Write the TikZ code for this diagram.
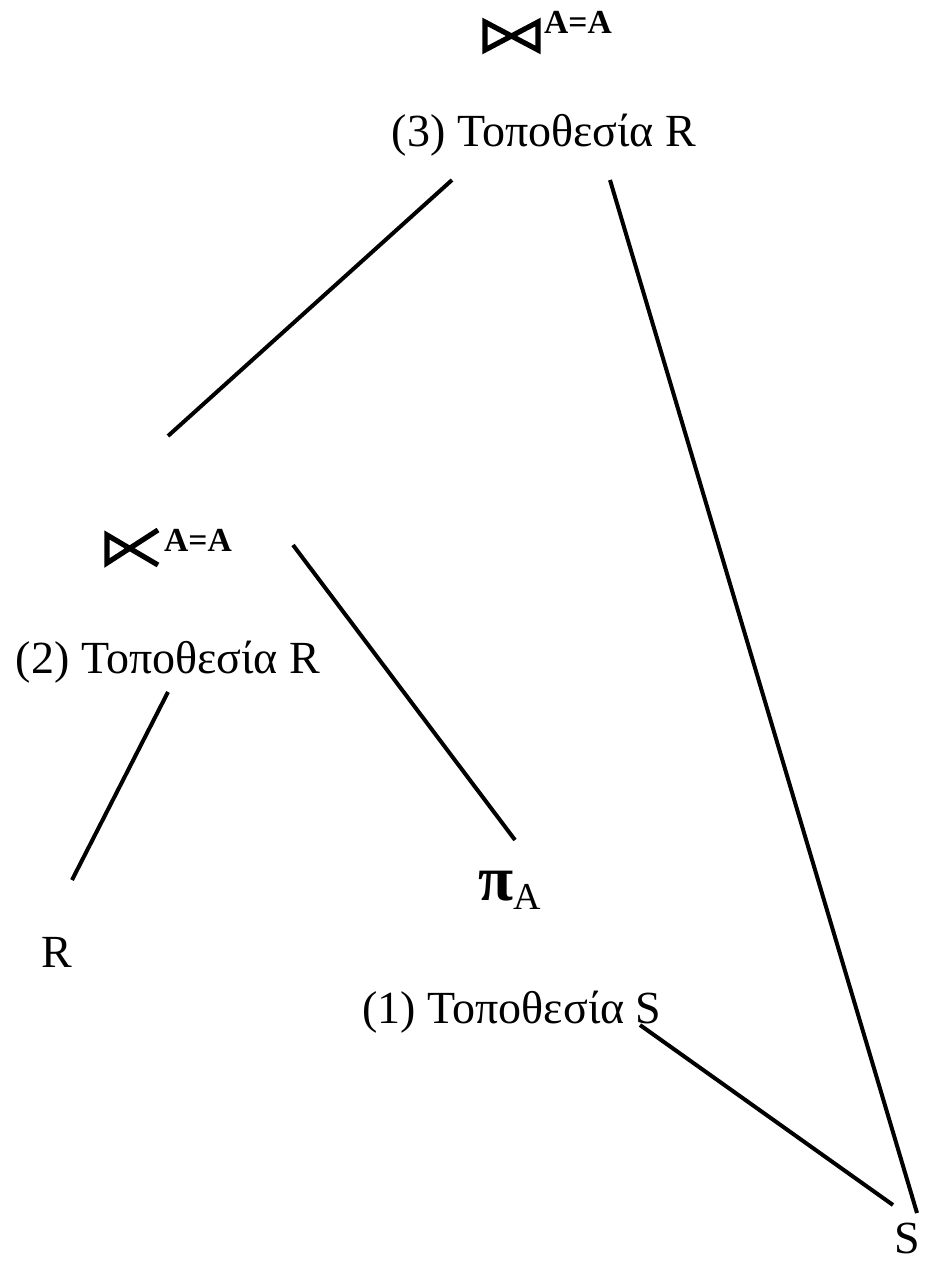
\documentclass[tikz,border=0pt]{standalone}
\usepackage{fontspec}
\setmainfont{Liberation Serif}
\usetikzlibrary{positioning}

\begin{document}
\begin{tikzpicture}[x=0.25pt, y=-0.25pt, line width=1pt, lbl/.style={inner sep=0pt, font=\fontsize{11.5}{13}\selectfont}, cond/.style={inner sep=0pt, font=\fontsize{8.4}{9}\selectfont\bfseries}, op/.style={line width=1.3pt, line join=miter}]
\useasboundingbox (0,0) rectangle (932,1261);

% labels
\node[lbl] (site3) at (544,135) {(3) Τοποθεσία R};
\node[lbl] (site2) at (168,662) {(2) Τοποθεσία R};
\node[lbl] (site1) at (512,1012) {(1) Τοποθεσία S};
\node[lbl] (r) at (57,952) {R};
\node[lbl] (s) at (907,1238) {S};
\node[inner sep=0pt] (proj) at (510,890) {{\fontsize{16}{17}\selectfont\bfseries π}{\fontsize{9.5}{10}\selectfont\raisebox{-0.5ex}{A}}};
\node[cond] (cond3) at (578,22) {A=A};
\node[cond] (cond2) at (198,540) {A=A};

% join symbols
\draw[op] (485,22) -- (485,50) -- (538,22) -- (538,50) -- cycle;
\draw[op] (158,565) -- (107,535) -- (107,563) -- (158,530);

% free ends
\coordinate (e3l) at (452,180);
\coordinate (e3r) at (610,180);
\coordinate (e2t) at (168,436);
\coordinate (e2l) at (168,692);
\coordinate (e2r) at (293,545);
\coordinate (er) at (72,880);
\coordinate (ep) at (515,840);
\coordinate (e1) at (640,1025);
\coordinate (es1) at (893,1205);
\coordinate (es3) at (917,1213);

\draw (e3l) -- (e2t);
\draw (e3r) -- (es3);
\draw (e2l) -- (er);
\draw (e2r) -- (ep);
\draw (e1) -- (es1);
\end{tikzpicture}
\end{document}
